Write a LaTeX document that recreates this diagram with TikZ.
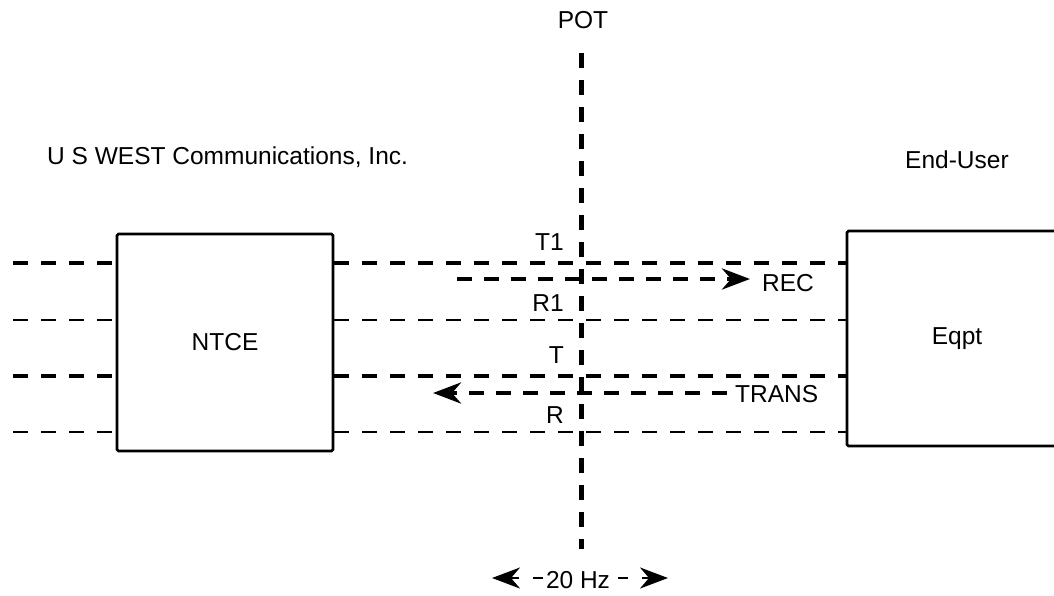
\documentclass[tikz,border=0pt]{standalone}
\usepackage{fontspec}
\setmainfont{Liberation Sans}
\usetikzlibrary{arrows.meta}
\begin{document}
\begin{tikzpicture}[x=1pt,y=-1pt,
  lbl/.style={font=\fontsize{24.5}{29}\selectfont, inner sep=0pt},
  thickdash/.style={line width=4.5pt, dash pattern=on 15pt off 13pt},
  thindash/.style={line width=2pt, dash pattern=on 15pt off 13pt},
  potline/.style={line width=5pt, dash pattern=on 15pt off 12pt},
  box/.style={draw, line width=2.7pt, fill=white, rounded corners=1.5pt, inner sep=0pt, font=\fontsize{24.5}{29}\selectfont},
  tipend/.style={-{Stealth[length=28pt,width=21pt,inset=9pt]}},
  arrline/.style={line width=4.5pt, dash pattern=on 15pt off 12pt},
  hzline/.style={line width=2.5pt, dash pattern=on 10pt off 14pt}
]
\useasboundingbox (0,0) rectangle (1054,595);
\begin{scope}
\clip (0,0) rectangle (1054,595);
% boxes
\node[box, minimum width=216pt, minimum height=217pt] (ntce) at (225,342.5) {NTCE};
\node[box, minimum width=220pt, minimum height=215pt] (eqpt) at (957,338.5) {Eqpt};
% horizontal lines
\coordinate (a1) at (13,263);
\coordinate (a2) at (13,320);
\coordinate (a3) at (13,376);
\coordinate (a4) at (13,432);
\foreach \c/\s in {a1/thickdash, a2/thindash, a3/thickdash, a4/thindash}{
  \draw[\s] (\c) -- (\c -| ntce.west);
  \draw[\s] (\c -| ntce.east) -- (\c -| eqpt.west);
}
% POT line
\coordinate (potT) at (581,53);
\coordinate (potB) at (581,549);
\draw[potline] (potT) -- (potB);
% texts
\node[lbl] (pot) at (583,20) {POT};
\node[lbl, anchor=west] (usw) at (47,157) {U S WEST Communications, Inc.};
\node[lbl, anchor=west] (eu) at (905,160) {End-User};
\node[lbl, anchor=east] (t1) at (564,242) {T1};
\node[lbl, anchor=east] (r1) at (564,303) {R1};
\node[lbl, anchor=east] (t) at (564,355) {T};
\node[lbl, anchor=east] (r) at (564,415) {R};
% REC arrow
\node[lbl, anchor=west] (rec) at (762,283) {REC};
\coordinate (recS) at (457,279);
\coordinate (recE) at (750,279);
\draw[arrline, tipend] (recS) -- (recE);
% TRANS arrow
\node[lbl, anchor=west] (trans) at (735,394) {TRANS};
\coordinate (transE) at (433,393);
\coordinate (transS) at (727,393);
\draw[arrline, tipend] (transS) -- (transE);
% 20 Hz
\node[lbl] (hz) at (578,580) {20 Hz};
\coordinate (hzL) at (492,578);
\coordinate (hzR) at (668,578);
\coordinate (hzLs) at (543,578);
\coordinate (hzRs) at (618,578);
\draw[hzline, tipend] (hzLs) -- (hzL);
\draw[hzline, tipend] (hzRs) -- (hzR);
\end{scope}
\end{tikzpicture}
\end{document}
